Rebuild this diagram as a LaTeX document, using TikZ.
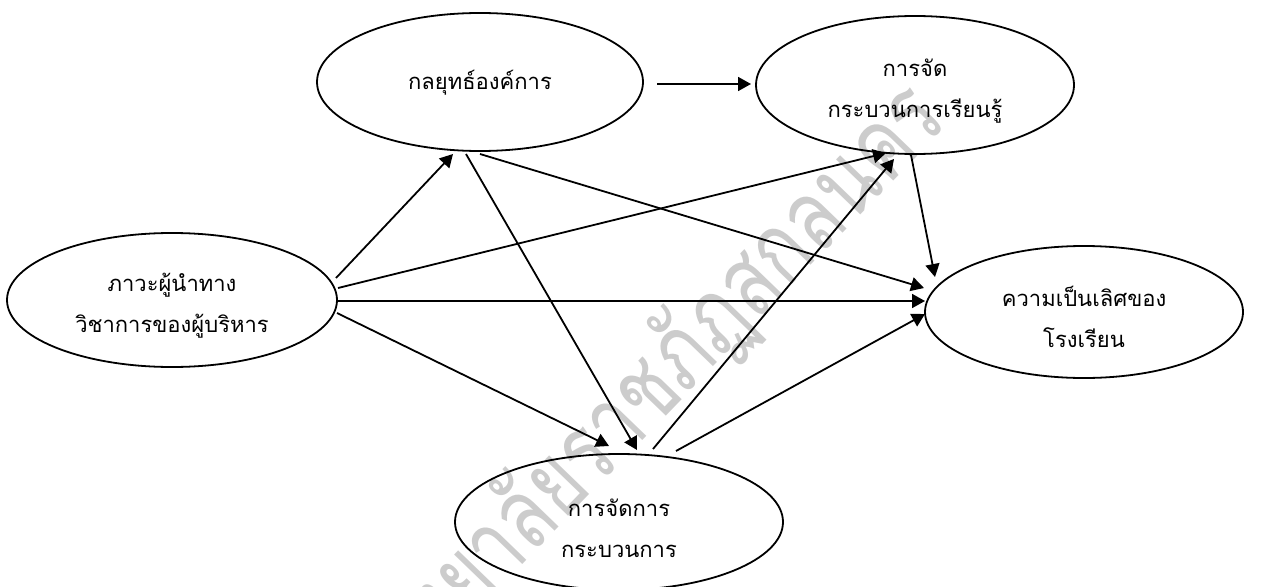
\documentclass[tikz,border=0pt]{standalone}
\usepackage{fontspec}
\newfontfamily\thai[Script=Thai]{Loma}
\newfontfamily\thaimark[Script=Thai, FakeStretch=0.75]{Loma}
\usetikzlibrary{arrows.meta,shapes.geometric}
% one text line with a fixed strut, so every construct label sits alike
\newcommand\twoline[2]{\rule[-6pt]{0pt}{36pt}#1\\#2}
\newcommand\oneline[1]{\rule[-6pt]{0pt}{26pt}#1}
\tikzset{
  construct/.style={draw, ellipse, line width=1.8pt, inner sep=0pt, align=center,
    font=\thai\fontsize{22}{41}\selectfont},
  causal/.style={line width=1.8pt, -{Triangle[length=13pt,width=14pt]}},
  watermark/.style={text=black!20, font=\thaimark\fontsize{100}{100}\selectfont, rotate=46}
}
\begin{document}
\begin{tikzpicture}[x=1pt, y=-1pt]
  \useasboundingbox (0,0) rectangle (1268,586);
  \begin{scope}
    \clip (0,0) rectangle (1268,586);
    \node[watermark, anchor=base east, inner sep=0pt] (wm) at (950,122) {มหาวิทยาลัยราชภัฏสกลนคร};
  \end{scope}

  % latent constructs
  \node[construct, minimum width=326pt, minimum height=138pt] (A) at (480,82) {\oneline{กลยุทธ์องค์การ}};
  \node[construct, minimum width=318pt, minimum height=138pt] (B) at (915,85) {\twoline{การจัด}{กระบวนการเรียนรู้}};
  \node[construct, minimum width=330pt, minimum height=134pt] (C) at (172,300) {\twoline{ภาวะผู้นำทาง}{วิชาการของผู้บริหาร}};
  \node[construct, minimum width=318pt, minimum height=132pt] (D) at (1084,312) {\twoline{ความเป็นเลิศของ}{โรงเรียน}};
  \node[construct, minimum width=328pt, minimum height=136pt] (E) at (619,522) {\twoline{การจัดการ}{กระบวนการ}};

  % causal paths
  \draw[causal] ([shift={(177,2)}]A.center) -- ([shift={(-164,-1)}]B.center);
  \draw[causal] ([shift={(164,-22)}]C.center) -- ([shift={(-27,72)}]A.center);
  \draw[causal] ([shift={(-14,72)}]A.center) -- ([shift={(18,-72)}]E.center);
  \draw[causal] ([shift={(0,72)}]A.center) -- ([shift={(-160,-24)}]D.center);
  \draw[causal] ([shift={(166,-12)}]C.center) -- ([shift={(-29,68)}]B.center);
  \draw[causal] ([shift={(166,1)}]C.center) -- ([shift={(-159,-11)}]D.center);
  \draw[causal] ([shift={(165,13)}]C.center) -- ([shift={(-10,-76)}]E.center);
  \draw[causal] ([shift={(34,-73)}]E.center) -- ([shift={(-21,74)}]B.center);
  \draw[causal] ([shift={(57,-71)}]E.center) -- ([shift={(-159,2)}]D.center);
  \draw[causal] ([shift={(-4,70)}]B.center) -- ([shift={(-149,-35)}]D.center);
\end{tikzpicture}
\end{document}
